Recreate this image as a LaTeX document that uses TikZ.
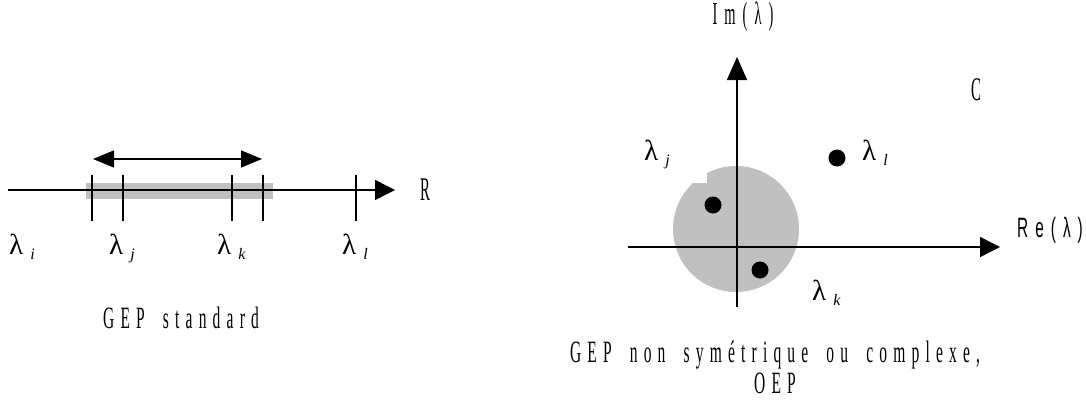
\documentclass[tikz,border=0pt]{standalone}
\usepackage{fontspec}
\usetikzlibrary{arrows.meta}
\setmainfont{Liberation Serif}
\newfontfamily\capfont[FakeStretch=0.5,LetterSpace=20,WordSpace=1.8]{Liberation Serif}
\newfontfamily\symfont[FakeStretch=0.45,LetterSpace=22]{Liberation Serif}
\newfontfamily\labfont{Liberation Serif}
\newfontfamily\refont[FakeStretch=0.55,LetterSpace=25]{Liberation Sans}
\definecolor{greyfill}{RGB}{192,192,192}
\newcommand\lamlab[1]{{\fontsize{29}{30}\selectfont\labfont λ}\hspace{7pt}\raisebox{-5pt}{\fontsize{16}{18}\selectfont\labfont\itshape #1}}
\begin{document}
\begin{tikzpicture}[x=1pt,y=-1pt,
  ax/.style={line width=1.4pt},
  tipR/.style={-{Triangle[length=20pt,width=20pt]}},
  tipB/.style={{Triangle[length=21pt,width=17pt]}-{Triangle[length=21pt,width=17pt]}},
  tickline/.style={line width=1.4pt},
  dot/.style={circle,fill=black,inner sep=0pt,minimum size=17pt},
  lab/.style={inner sep=0pt,anchor=base west},
  captext/.style={inner sep=0pt,font=\capfont\fontsize{31}{31}\selectfont,align=center}]
\useasboundingbox (0,0) rectangle (1086,412);
% ---------- left: real axis ----------
\fill[greyfill] (86,183) rectangle (273,199);
\coordinate (A0) at (8,190);
\coordinate (A1) at (395,190);
\draw[ax,tipR] (A0) -- (A1);
\foreach \n/\x in {t1/92,t2/123,t3/232,t4/263,t5/356}{
  \coordinate (\n a) at (\x,175);
  \coordinate (\n b) at (\x,221);
  \draw[tickline] (\n a) -- (\n b);
}
\coordinate (D0) at (93,159);
\coordinate (D1) at (262,159);
\draw[ax,tipB] (D0) -- (D1);
\node[inner sep=0pt,font=\symfont\fontsize{33}{36}\selectfont] (R) at (425,190) {R};
\node[lab] (li) at (9,254) {\lamlab{i}};
\node[lab] (lj) at (109,254) {\lamlab{j}};
\node[lab] (lk) at (217,254) {\lamlab{k}};
\node[lab] (ll) at (342,254) {\lamlab{l}};
\node[captext] (capL) at (181,318) {GEP standard};
% ---------- right: complex plane ----------
\begin{scope}
\clip (660,300) -- (660,183) -- (707,183) -- (707,150) -- (810,150) -- (810,300) -- cycle;
\fill[greyfill] (736,229) circle[radius=63];
\end{scope}
\coordinate (H0) at (628,247);
\coordinate (H1) at (1000,247);
\draw[ax,tipR] (H0) -- (H1);
\coordinate (V0) at (737,307);
\coordinate (V1) at (737,57);
\draw[ax,-{Triangle[length=23pt,width=20pt]}] (V0) -- (V1);
\node[dot] (dj) at (713,205) {};
\node[dot] (dk) at (760,270) {};
\node[dot] (dl) at (837,158) {};
\node[lab] (Lj) at (644,160) {\lamlab{j}};
\node[lab] (Ll) at (862,160) {\lamlab{l}};
\node[lab] (Lk) at (812,300) {\lamlab{k}};
\node[inner sep=0pt,font=\symfont\fontsize{33}{36}\selectfont] (C) at (976,90) {C};
\node[inner sep=0pt,font=\symfont\fontsize{32}{34}\selectfont] (Im) at (743,17) {Im(λ)};
\node[inner sep=0pt,anchor=west,font=\refont\fontsize{28}{30}\selectfont] (Re) at (1017,230) {Re(λ)};
\node[captext] (capR) at (775,367) {GEP non symétrique ou complexe,\\OEP};
\end{tikzpicture}
\end{document}
